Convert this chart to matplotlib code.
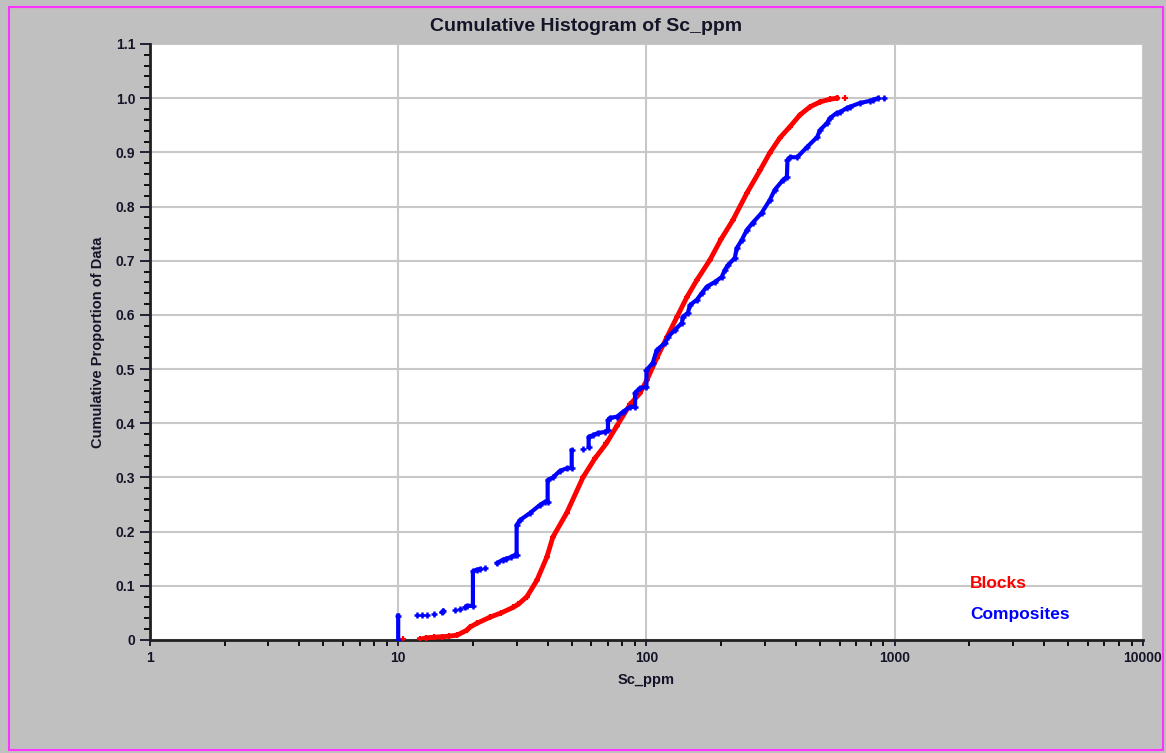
import numpy as np
import matplotlib
matplotlib.use('Agg')
import matplotlib.pyplot as plt
from matplotlib.patches import Rectangle

plt.rcParams['font.family'] = ['Liberation Sans', 'DejaVu Sans']

# Blocks (Sc_ppm, cumulative proportion)
blocks_x = [10.45, None, 12.2, 13.0, 13.9, 15.0, 16.0, 17.3, 18.9, 19.5, 20.8, 23.4, 26.0, 29.0,
            30.5, 33.0, 36.2, 39.7, 42.0, 47.8, 55.5, 62.0, 69.0, 76.0, 86.0, 94.0, 100.5,
            110, 121, 133, 145.6, 160, 180, 200, 223, 254, 287, 314, 345, 378, 415, 456,
            500, 548, 585, None, 630]
blocks_p = [0.001, None, 0.001, 0.004, 0.005, 0.006, 0.007, 0.009, 0.018, 0.024, 0.031, 0.042,
            0.050, 0.060, 0.066, 0.080, 0.110, 0.153, 0.190, 0.235, 0.300, 0.335, 0.363, 0.395,
            0.435, 0.455, 0.480, 0.520, 0.559, 0.597, 0.633, 0.665, 0.701, 0.740, 0.775, 0.825,
            0.867, 0.899, 0.927, 0.947, 0.969, 0.984, 0.993, 0.998, 1.0, None, 1.0]

# Composites; None separates isolated samples
comp_x = [10, 10, None, 11.9, None, 12.5, None, 13.05, None, 13.9, None, 15.0, 15.2, None,
          16.9, None, 17.7, None, 18.6, 18.9, 20, 20, 20.8, 21.4, None, 22.4, None,
          25.0, 26.4, 27.2, 28.5, 29.5, 30, 30, 30.9, 33.9, 37.2, 39.0, 40, 40, 42.0, 44.8,
          47.8, 50, 50, None, 55.5, None, 58.5, 58.5, 60.9, 63.8, 68.0, 70, 70, 71.3, 76.1,
          80.4, 85.8, 90, 90, 94.1, 100, 100, 106, 110, 118.7, 122, 130, 139, 140, 147,
          149.7, 159.7, 167, 175, 189, 201, 207, 213, 227, 231, 242, 254, 268, 291, 314,
          329, 355, 368, 370, 379, 405, 444, 487, 500, 534, 548, 585, 602, 642, 660, 724,
          795, 818, 857, None, 905]
comp_p = [0.0, 0.045, None, 0.046, None, 0.046, None, 0.046, None, 0.048, None, 0.051, 0.054, None,
          0.055, None, 0.057, None, 0.060, 0.063, 0.063, 0.127, 0.130, 0.131, None, 0.133, None,
          0.142, 0.148, 0.150, 0.153, 0.157, 0.157, 0.212, 0.221, 0.234, 0.249, 0.255, 0.255,
          0.295, 0.300, 0.312, 0.317, 0.317, 0.350, None, 0.352, None, 0.356, 0.375, 0.378,
          0.382, 0.384, 0.388, 0.406, 0.410, 0.412, 0.421, 0.430, 0.430, 0.456, 0.465, 0.467,
          0.498, 0.511, 0.535, 0.548, 0.559, 0.572, 0.585, 0.596, 0.604, 0.618, 0.628, 0.640,
          0.652, 0.661, 0.670, 0.683, 0.692, 0.705, 0.723, 0.738, 0.757, 0.770, 0.788, 0.812,
          0.831, 0.849, 0.855, 0.886, 0.891, 0.891, 0.910, 0.928, 0.941, 0.954, 0.963, 0.973,
          0.974, 0.982, 0.984, 0.991, 0.995, 0.997, 1.0, None, 1.0]

x_ticks = [1, 10, 100, 1000, 10000]
x_labels = ['1', '10', '100', '1000', '10000']
y_ticks = [0, 0.1, 0.2, 0.3, 0.4, 0.5, 0.6, 0.7, 0.8, 0.9, 1.0, 1.1]
y_labels = ['0', '0.1', '0.2', '0.3', '0.4', '0.5', '0.6', '0.7', '0.8', '0.9', '1.0', '1.1']

txt = '#141428'
grid_c = '#c8c8c8'

fig = plt.figure(figsize=(11.66, 7.53), dpi=100, facecolor='#c0c0c0')
fig.patches.append(Rectangle((0.0077, 0.004), 0.9897, 0.9867, transform=fig.transFigure,
                             fill=False, edgecolor='#ff33ff', lw=1.5))

ax = fig.add_axes([0.1286, 0.1501, 0.8516, 0.7915])
ax.set_facecolor('white')
ax.set_xscale('log')
ax.set_xlim(1, 10000)
ax.set_ylim(0, 1.1)

ax.plot(np.array(blocks_x, dtype=float), np.array(blocks_p, dtype=float), color='#ff0000',
        lw=3.5, marker='+', ms=4.5, mew=1.6, zorder=3)
ax.plot(np.array(comp_x, dtype=float), np.array(comp_p, dtype=float), color='#0000ff',
        lw=3, marker='+', ms=5, mew=1.8, zorder=4)

ax.set_xticks(x_ticks)
ax.set_xticklabels(x_labels)
ax.set_yticks(y_ticks)
ax.set_yticklabels(y_labels)
ax.set_yticks(np.arange(0, 1.1, 0.02), minor=True)
ax.grid(True, which='major', color=grid_c, lw=1.5, zorder=0)
ax.set_axisbelow(True)

for s in ['top', 'right']:
    ax.spines[s].set_visible(False)
for s in ['left', 'bottom']:
    ax.spines[s].set_linewidth(2)
    ax.spines[s].set_color('#202020')

ax.tick_params(axis='both', which='major', labelsize=10, colors=txt, width=1.3)
ax.tick_params(axis='y', which='major', length=7)
ax.tick_params(axis='y', which='minor', length=4, width=1.3)
ax.tick_params(axis='x', which='major', length=4, pad=4)
ax.tick_params(axis='x', which='minor', length=4, width=1.3)
ax.xaxis.set_minor_formatter(plt.NullFormatter())
for lab in ax.get_xticklabels() + ax.get_yticklabels():
    lab.set_fontweight('bold')

fig.text(0.503, 0.965, 'Cumulative Histogram of Sc_ppm', ha='center', va='center',
         fontsize=14, fontweight='bold', color=txt)
fig.text(0.084, 0.546, 'Cumulative Proportion of Data', rotation=90, ha='center', va='center',
         fontsize=10.5, fontweight='bold', color=txt)
fig.text(0.554, 0.097, 'Sc_ppm', ha='center', va='center', fontsize=10.5, fontweight='bold',
         color=txt)

fig.text(0.832, 0.2245, 'Blocks', color='#ff0000', fontsize=12.5, fontweight='bold', va='center')
fig.text(0.832, 0.1833, 'Composites', color='#0000ff', fontsize=12.5, fontweight='bold',
         va='center')

fig.savefig('out.png', dpi=100, facecolor=fig.get_facecolor())
